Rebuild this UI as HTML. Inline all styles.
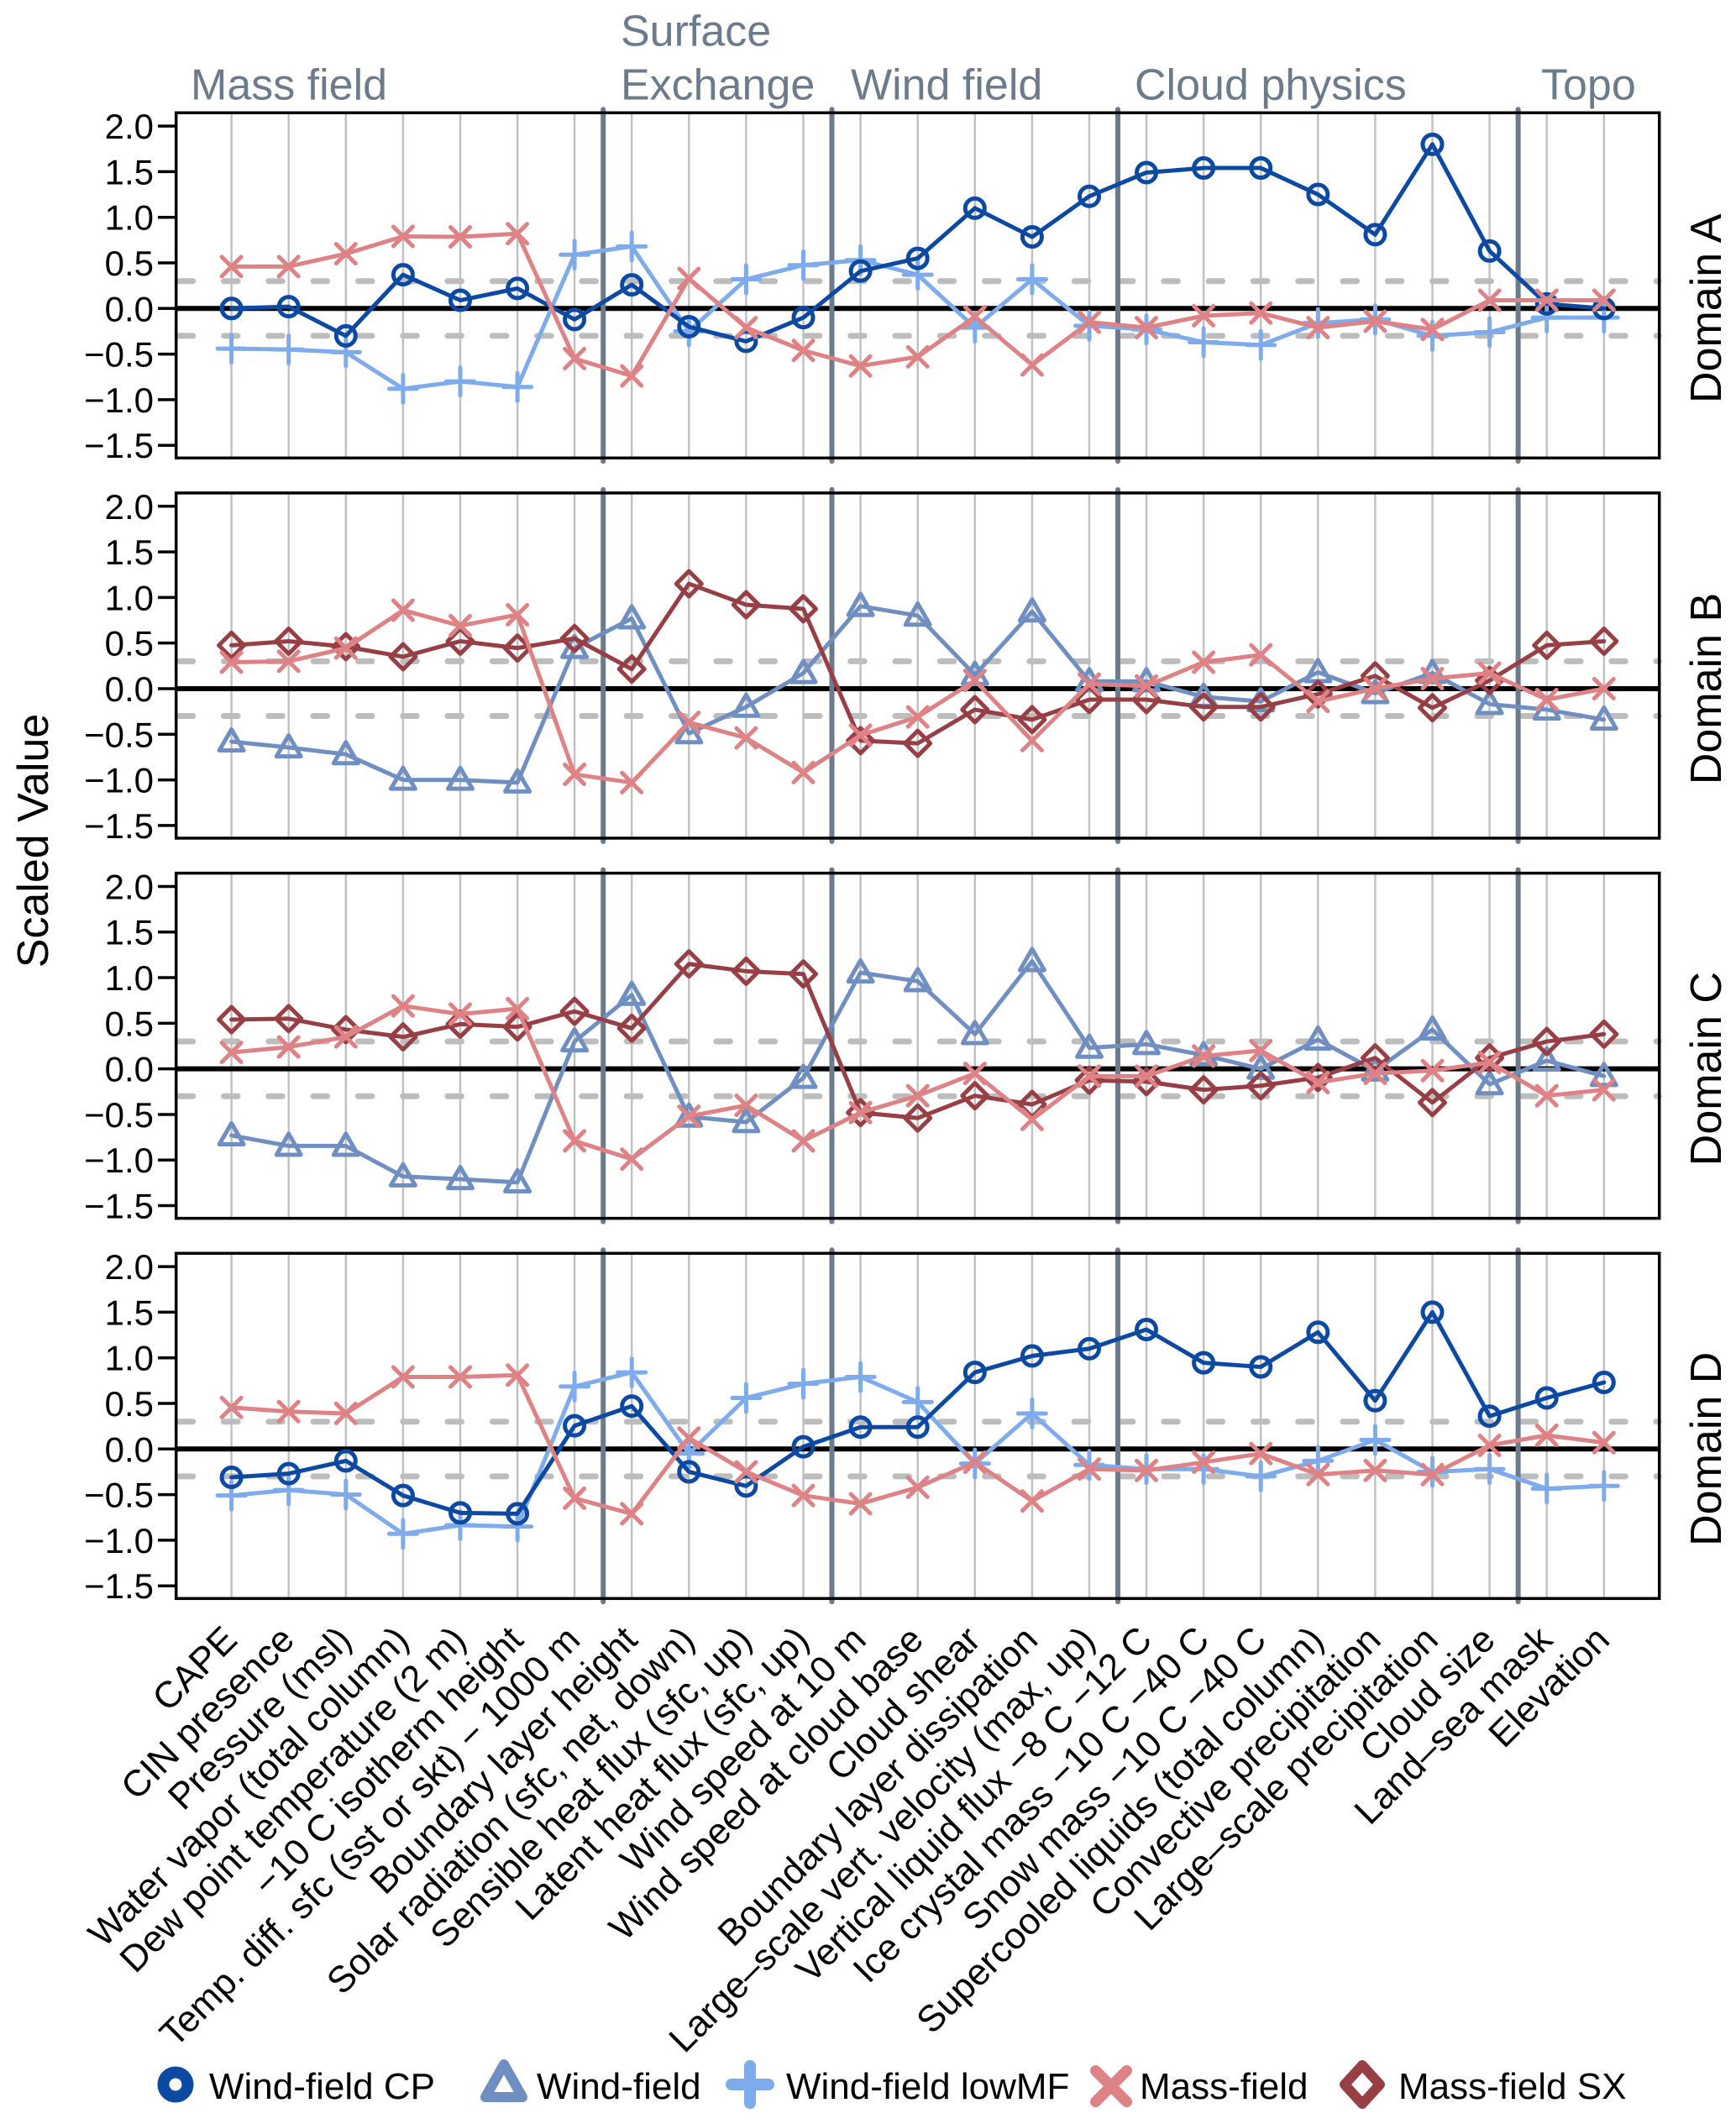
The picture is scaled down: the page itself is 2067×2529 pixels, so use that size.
<!DOCTYPE html>
<html><head><meta charset="utf-8"><style>
html,body{margin:0;padding:0;background:#fff;}
body{width:2067px;height:2529px;overflow:hidden;}
svg{display:block;font-family:"Liberation Sans",Arial,Helvetica,sans-serif;}
.pl{fill:none;stroke-linejoin:round;stroke-linecap:round;vector-effect:non-scaling-stroke;stroke-width:5;}
</style></head><body>
<svg width="2067" height="2529" viewBox="0 0 2067 2529" xmlns="http://www.w3.org/2000/svg">
<defs>
<g id="bg">
<g stroke="#c0c0c0" stroke-width="2.4">
<path d="M275.6,-233V178M343.7,-233V178M411.8,-233V178M479.9,-233V178M548,-233V178M616.1,-233V178M684.1,-233V178M752.2,-233V178M820.3,-233V178M888.4,-233V178M956.5,-233V178M1024.6,-233V178M1092.7,-233V178M1160.8,-233V178M1228.9,-233V178M1297,-233V178M1365,-233V178M1433.1,-233V178M1501.2,-233V178M1569.3,-233V178M1637.4,-233V178M1705.5,-233V178M1773.6,-233V178M1841.7,-233V178M1909.8,-233V178"/>
</g>
<path d="M213.2,-32.58H1975M213.2,32.58H1975" stroke="#bdbdbd" stroke-width="7" stroke-dasharray="16.5 36.8" stroke-linecap="round" fill="none"/>
<path d="M209.7,0H1975.7" stroke="#000" stroke-width="6"/>
<path d="M718.2,-237V182M990.5,-237V182M1331,-237V182M1807.6,-237V182" stroke="#6c7b8b" stroke-width="6" stroke-linecap="round"/>
<rect x="209.7" y="-233" width="1766" height="411" fill="none" stroke="#000" stroke-width="3.5"/>
<path d="M188,-217.2H209.7M188,-162.9H209.7M188,-108.6H209.7M188,-54.3H209.7M188,0H209.7M188,54.3H209.7M188,108.6H209.7M188,162.9H209.7" stroke="#000" stroke-width="3.5"/>
</g>
<g id="mC"><circle r="11.5" fill="none" stroke="#0b49a3" stroke-width="5"/></g>
<g id="mW"><path d="M0,-14.5L14.5,10.6L-14.5,10.6Z" fill="none" stroke="#6f8fc2" stroke-width="5" stroke-linejoin="round"/></g>
<g id="mL"><path d="M-16.5,0H16.5M0,-16.5V16.5" fill="none" stroke="#7eabeb" stroke-width="5" stroke-linecap="round"/></g>
<g id="mM"><path d="M-11.5,-11.5L11.5,11.5M-11.5,11.5L11.5,-11.5" fill="none" stroke="#df8285" stroke-width="5" stroke-linecap="round"/></g>
<g id="mS"><path d="M0,-15L15,0L0,15L-15,0Z" fill="none" stroke="#983f45" stroke-width="5" stroke-linejoin="round"/></g>
</defs>
<rect width="2067" height="2529" fill="#fff"/>

<!-- group labels -->
<g fill="#6c7b8b" font-size="52">
<text x="227" y="118.6">Mass field</text>
<text x="739" y="54.5">Surface</text>
<text x="739" y="118.6">Exchange</text>
<text x="1013" y="118.6">Wind field</text>
<text x="1351" y="118.6">Cloud physics</text>
<text x="1835" y="118.6">Topo</text>
</g>

<use href="#bg" y="367.3"/>
<use href="#bg" y="819.97"/>
<use href="#bg" y="1272.64"/>
<use href="#bg" y="1725.3"/>

<!-- tick labels & domain labels -->
<g font-size="42" text-anchor="end">
<g transform="translate(0,367.3)"><text x="183" y="-202.2">2.0</text><text x="183" y="-147.9">1.5</text><text x="183" y="-93.6">1.0</text><text x="183" y="-39.3">0.5</text><text x="183" y="15">0.0</text><text x="183" y="69.3">−0.5</text><text x="183" y="123.6">−1.0</text><text x="183" y="177.9">−1.5</text></g>
<g transform="translate(0,819.97)"><text x="183" y="-202.2">2.0</text><text x="183" y="-147.9">1.5</text><text x="183" y="-93.6">1.0</text><text x="183" y="-39.3">0.5</text><text x="183" y="15">0.0</text><text x="183" y="69.3">−0.5</text><text x="183" y="123.6">−1.0</text><text x="183" y="177.9">−1.5</text></g>
<g transform="translate(0,1272.64)"><text x="183" y="-202.2">2.0</text><text x="183" y="-147.9">1.5</text><text x="183" y="-93.6">1.0</text><text x="183" y="-39.3">0.5</text><text x="183" y="15">0.0</text><text x="183" y="69.3">−0.5</text><text x="183" y="123.6">−1.0</text><text x="183" y="177.9">−1.5</text></g>
<g transform="translate(0,1725.3)"><text x="183" y="-202.2">2.0</text><text x="183" y="-147.9">1.5</text><text x="183" y="-93.6">1.0</text><text x="183" y="-39.3">0.5</text><text x="183" y="15">0.0</text><text x="183" y="69.3">−0.5</text><text x="183" y="123.6">−1.0</text><text x="183" y="177.9">−1.5</text></g>
</g>
<g font-size="52" text-anchor="middle">
<text transform="translate(2049,367.3) rotate(-90)">Domain A</text>
<text transform="translate(2049,819.97) rotate(-90)">Domain B</text>
<text transform="translate(2049,1272.64) rotate(-90)">Domain C</text>
<text transform="translate(2049,1725.3) rotate(-90)">Domain D</text>
<text transform="translate(57,1001) rotate(-90)">Scaled Value</text>
</g>

<!-- Panel A -->
<g transform="translate(0,367.3) scale(1,-108.6)">
<polyline class="pl" stroke="#7eabeb" points="275.6,-0.44 343.7,-0.45 411.8,-0.48 479.9,-0.88 548,-0.80 616.1,-0.86 684.1,0.59 752.2,0.68 820.3,-0.25 888.4,0.32 956.5,0.475 1024.6,0.53 1092.7,0.37 1160.8,-0.21 1228.9,0.32 1297,-0.19 1365,-0.23 1433.1,-0.37 1501.2,-0.40 1569.3,-0.16 1637.4,-0.12 1705.5,-0.30 1773.6,-0.26 1841.7,-0.10 1909.8,-0.10"/>
<use href="#mL" transform="translate(275.6,-0.44)scale(1,-.0092081)"/><use href="#mL" transform="translate(343.7,-0.45)scale(1,-.0092081)"/><use href="#mL" transform="translate(411.8,-0.48)scale(1,-.0092081)"/><use href="#mL" transform="translate(479.9,-0.88)scale(1,-.0092081)"/><use href="#mL" transform="translate(548,-0.80)scale(1,-.0092081)"/><use href="#mL" transform="translate(616.1,-0.86)scale(1,-.0092081)"/><use href="#mL" transform="translate(684.1,0.59)scale(1,-.0092081)"/><use href="#mL" transform="translate(752.2,0.68)scale(1,-.0092081)"/><use href="#mL" transform="translate(820.3,-0.25)scale(1,-.0092081)"/><use href="#mL" transform="translate(888.4,0.32)scale(1,-.0092081)"/><use href="#mL" transform="translate(956.5,0.475)scale(1,-.0092081)"/><use href="#mL" transform="translate(1024.6,0.53)scale(1,-.0092081)"/><use href="#mL" transform="translate(1092.7,0.37)scale(1,-.0092081)"/><use href="#mL" transform="translate(1160.8,-0.21)scale(1,-.0092081)"/><use href="#mL" transform="translate(1228.9,0.32)scale(1,-.0092081)"/><use href="#mL" transform="translate(1297,-0.19)scale(1,-.0092081)"/><use href="#mL" transform="translate(1365,-0.23)scale(1,-.0092081)"/><use href="#mL" transform="translate(1433.1,-0.37)scale(1,-.0092081)"/><use href="#mL" transform="translate(1501.2,-0.40)scale(1,-.0092081)"/><use href="#mL" transform="translate(1569.3,-0.16)scale(1,-.0092081)"/><use href="#mL" transform="translate(1637.4,-0.12)scale(1,-.0092081)"/><use href="#mL" transform="translate(1705.5,-0.30)scale(1,-.0092081)"/><use href="#mL" transform="translate(1773.6,-0.26)scale(1,-.0092081)"/><use href="#mL" transform="translate(1841.7,-0.10)scale(1,-.0092081)"/><use href="#mL" transform="translate(1909.8,-0.10)scale(1,-.0092081)"/>
<polyline class="pl" stroke="#0b49a3" points="275.6,0 343.7,0.02 411.8,-0.30 479.9,0.37 548,0.09 616.1,0.22 684.1,-0.12 752.2,0.26 820.3,-0.20 888.4,-0.36 956.5,-0.10 1024.6,0.41 1092.7,0.55 1160.8,1.10 1228.9,0.785 1297,1.23 1365,1.49 1433.1,1.54 1501.2,1.54 1569.3,1.25 1637.4,0.81 1705.5,1.80 1773.6,0.63 1841.7,0.05 1909.8,0"/>
<use href="#mC" transform="translate(275.6,0)scale(1,-.0092081)"/><use href="#mC" transform="translate(343.7,0.02)scale(1,-.0092081)"/><use href="#mC" transform="translate(411.8,-0.30)scale(1,-.0092081)"/><use href="#mC" transform="translate(479.9,0.37)scale(1,-.0092081)"/><use href="#mC" transform="translate(548,0.09)scale(1,-.0092081)"/><use href="#mC" transform="translate(616.1,0.22)scale(1,-.0092081)"/><use href="#mC" transform="translate(684.1,-0.12)scale(1,-.0092081)"/><use href="#mC" transform="translate(752.2,0.26)scale(1,-.0092081)"/><use href="#mC" transform="translate(820.3,-0.20)scale(1,-.0092081)"/><use href="#mC" transform="translate(888.4,-0.36)scale(1,-.0092081)"/><use href="#mC" transform="translate(956.5,-0.10)scale(1,-.0092081)"/><use href="#mC" transform="translate(1024.6,0.41)scale(1,-.0092081)"/><use href="#mC" transform="translate(1092.7,0.55)scale(1,-.0092081)"/><use href="#mC" transform="translate(1160.8,1.10)scale(1,-.0092081)"/><use href="#mC" transform="translate(1228.9,0.785)scale(1,-.0092081)"/><use href="#mC" transform="translate(1297,1.23)scale(1,-.0092081)"/><use href="#mC" transform="translate(1365,1.49)scale(1,-.0092081)"/><use href="#mC" transform="translate(1433.1,1.54)scale(1,-.0092081)"/><use href="#mC" transform="translate(1501.2,1.54)scale(1,-.0092081)"/><use href="#mC" transform="translate(1569.3,1.25)scale(1,-.0092081)"/><use href="#mC" transform="translate(1637.4,0.81)scale(1,-.0092081)"/><use href="#mC" transform="translate(1705.5,1.80)scale(1,-.0092081)"/><use href="#mC" transform="translate(1773.6,0.63)scale(1,-.0092081)"/><use href="#mC" transform="translate(1841.7,0.05)scale(1,-.0092081)"/><use href="#mC" transform="translate(1909.8,0)scale(1,-.0092081)"/>
<polyline class="pl" stroke="#df8285" points="275.6,0.46 343.7,0.46 411.8,0.60 479.9,0.79 548,0.785 616.1,0.82 684.1,-0.55 752.2,-0.74 820.3,0.33 888.4,-0.21 956.5,-0.46 1024.6,-0.63 1092.7,-0.53 1160.8,-0.09 1228.9,-0.62 1297,-0.15 1365,-0.21 1433.1,-0.08 1501.2,-0.05 1569.3,-0.21 1637.4,-0.14 1705.5,-0.23 1773.6,0.09 1841.7,0.09 1909.8,0.09"/>
<use href="#mM" transform="translate(275.6,0.46)scale(1,-.0092081)"/><use href="#mM" transform="translate(343.7,0.46)scale(1,-.0092081)"/><use href="#mM" transform="translate(411.8,0.60)scale(1,-.0092081)"/><use href="#mM" transform="translate(479.9,0.79)scale(1,-.0092081)"/><use href="#mM" transform="translate(548,0.785)scale(1,-.0092081)"/><use href="#mM" transform="translate(616.1,0.82)scale(1,-.0092081)"/><use href="#mM" transform="translate(684.1,-0.55)scale(1,-.0092081)"/><use href="#mM" transform="translate(752.2,-0.74)scale(1,-.0092081)"/><use href="#mM" transform="translate(820.3,0.33)scale(1,-.0092081)"/><use href="#mM" transform="translate(888.4,-0.21)scale(1,-.0092081)"/><use href="#mM" transform="translate(956.5,-0.46)scale(1,-.0092081)"/><use href="#mM" transform="translate(1024.6,-0.63)scale(1,-.0092081)"/><use href="#mM" transform="translate(1092.7,-0.53)scale(1,-.0092081)"/><use href="#mM" transform="translate(1160.8,-0.09)scale(1,-.0092081)"/><use href="#mM" transform="translate(1228.9,-0.62)scale(1,-.0092081)"/><use href="#mM" transform="translate(1297,-0.15)scale(1,-.0092081)"/><use href="#mM" transform="translate(1365,-0.21)scale(1,-.0092081)"/><use href="#mM" transform="translate(1433.1,-0.08)scale(1,-.0092081)"/><use href="#mM" transform="translate(1501.2,-0.05)scale(1,-.0092081)"/><use href="#mM" transform="translate(1569.3,-0.21)scale(1,-.0092081)"/><use href="#mM" transform="translate(1637.4,-0.14)scale(1,-.0092081)"/><use href="#mM" transform="translate(1705.5,-0.23)scale(1,-.0092081)"/><use href="#mM" transform="translate(1773.6,0.09)scale(1,-.0092081)"/><use href="#mM" transform="translate(1841.7,0.09)scale(1,-.0092081)"/><use href="#mM" transform="translate(1909.8,0.09)scale(1,-.0092081)"/>
</g>

<!-- Panel B -->
<g transform="translate(0,819.97) scale(1,-108.6)">
<polyline class="pl" stroke="#6f8fc2" points="275.6,-0.58 343.7,-0.645 411.8,-0.72 479.9,-1.00 548,-1.00 616.1,-1.03 684.1,0.445 752.2,0.77 820.3,-0.49 888.4,-0.20 956.5,0.17 1024.6,0.905 1092.7,0.80 1160.8,0.15 1228.9,0.845 1297,0.08 1365,0.08 1433.1,-0.09 1501.2,-0.14 1569.3,0.18 1637.4,-0.05 1705.5,0.17 1773.6,-0.17 1841.7,-0.23 1909.8,-0.34"/>
<use href="#mW" transform="translate(275.6,-0.58)scale(1,-.0092081)"/><use href="#mW" transform="translate(343.7,-0.645)scale(1,-.0092081)"/><use href="#mW" transform="translate(411.8,-0.72)scale(1,-.0092081)"/><use href="#mW" transform="translate(479.9,-1.00)scale(1,-.0092081)"/><use href="#mW" transform="translate(548,-1.00)scale(1,-.0092081)"/><use href="#mW" transform="translate(616.1,-1.03)scale(1,-.0092081)"/><use href="#mW" transform="translate(684.1,0.445)scale(1,-.0092081)"/><use href="#mW" transform="translate(752.2,0.77)scale(1,-.0092081)"/><use href="#mW" transform="translate(820.3,-0.49)scale(1,-.0092081)"/><use href="#mW" transform="translate(888.4,-0.20)scale(1,-.0092081)"/><use href="#mW" transform="translate(956.5,0.17)scale(1,-.0092081)"/><use href="#mW" transform="translate(1024.6,0.905)scale(1,-.0092081)"/><use href="#mW" transform="translate(1092.7,0.80)scale(1,-.0092081)"/><use href="#mW" transform="translate(1160.8,0.15)scale(1,-.0092081)"/><use href="#mW" transform="translate(1228.9,0.845)scale(1,-.0092081)"/><use href="#mW" transform="translate(1297,0.08)scale(1,-.0092081)"/><use href="#mW" transform="translate(1365,0.08)scale(1,-.0092081)"/><use href="#mW" transform="translate(1433.1,-0.09)scale(1,-.0092081)"/><use href="#mW" transform="translate(1501.2,-0.14)scale(1,-.0092081)"/><use href="#mW" transform="translate(1569.3,0.18)scale(1,-.0092081)"/><use href="#mW" transform="translate(1637.4,-0.05)scale(1,-.0092081)"/><use href="#mW" transform="translate(1705.5,0.17)scale(1,-.0092081)"/><use href="#mW" transform="translate(1773.6,-0.17)scale(1,-.0092081)"/><use href="#mW" transform="translate(1841.7,-0.23)scale(1,-.0092081)"/><use href="#mW" transform="translate(1909.8,-0.34)scale(1,-.0092081)"/>
<polyline class="pl" stroke="#983f45" points="275.6,0.475 343.7,0.52 411.8,0.46 479.9,0.35 548,0.52 616.1,0.445 684.1,0.55 752.2,0.215 820.3,1.15 888.4,0.92 956.5,0.875 1024.6,-0.57 1092.7,-0.60 1160.8,-0.23 1228.9,-0.34 1297,-0.12 1365,-0.12 1433.1,-0.20 1501.2,-0.20 1569.3,-0.06 1637.4,0.14 1705.5,-0.21 1773.6,0.09 1841.7,0.475 1909.8,0.52"/>
<use href="#mS" transform="translate(275.6,0.475)scale(1,-.0092081)"/><use href="#mS" transform="translate(343.7,0.52)scale(1,-.0092081)"/><use href="#mS" transform="translate(411.8,0.46)scale(1,-.0092081)"/><use href="#mS" transform="translate(479.9,0.35)scale(1,-.0092081)"/><use href="#mS" transform="translate(548,0.52)scale(1,-.0092081)"/><use href="#mS" transform="translate(616.1,0.445)scale(1,-.0092081)"/><use href="#mS" transform="translate(684.1,0.55)scale(1,-.0092081)"/><use href="#mS" transform="translate(752.2,0.215)scale(1,-.0092081)"/><use href="#mS" transform="translate(820.3,1.15)scale(1,-.0092081)"/><use href="#mS" transform="translate(888.4,0.92)scale(1,-.0092081)"/><use href="#mS" transform="translate(956.5,0.875)scale(1,-.0092081)"/><use href="#mS" transform="translate(1024.6,-0.57)scale(1,-.0092081)"/><use href="#mS" transform="translate(1092.7,-0.60)scale(1,-.0092081)"/><use href="#mS" transform="translate(1160.8,-0.23)scale(1,-.0092081)"/><use href="#mS" transform="translate(1228.9,-0.34)scale(1,-.0092081)"/><use href="#mS" transform="translate(1297,-0.12)scale(1,-.0092081)"/><use href="#mS" transform="translate(1365,-0.12)scale(1,-.0092081)"/><use href="#mS" transform="translate(1433.1,-0.20)scale(1,-.0092081)"/><use href="#mS" transform="translate(1501.2,-0.20)scale(1,-.0092081)"/><use href="#mS" transform="translate(1569.3,-0.06)scale(1,-.0092081)"/><use href="#mS" transform="translate(1637.4,0.14)scale(1,-.0092081)"/><use href="#mS" transform="translate(1705.5,-0.21)scale(1,-.0092081)"/><use href="#mS" transform="translate(1773.6,0.09)scale(1,-.0092081)"/><use href="#mS" transform="translate(1841.7,0.475)scale(1,-.0092081)"/><use href="#mS" transform="translate(1909.8,0.52)scale(1,-.0092081)"/>
<polyline class="pl" stroke="#df8285" points="275.6,0.29 343.7,0.30 411.8,0.445 479.9,0.86 548,0.69 616.1,0.81 684.1,-0.94 752.2,-1.03 820.3,-0.37 888.4,-0.54 956.5,-0.92 1024.6,-0.51 1092.7,-0.31 1160.8,0.09 1228.9,-0.57 1297,0.05 1365,0.03 1433.1,0.29 1501.2,0.37 1569.3,-0.14 1637.4,0 1705.5,0.11 1773.6,0.17 1841.7,-0.12 1909.8,0"/>
<use href="#mM" transform="translate(275.6,0.29)scale(1,-.0092081)"/><use href="#mM" transform="translate(343.7,0.30)scale(1,-.0092081)"/><use href="#mM" transform="translate(411.8,0.445)scale(1,-.0092081)"/><use href="#mM" transform="translate(479.9,0.86)scale(1,-.0092081)"/><use href="#mM" transform="translate(548,0.69)scale(1,-.0092081)"/><use href="#mM" transform="translate(616.1,0.81)scale(1,-.0092081)"/><use href="#mM" transform="translate(684.1,-0.94)scale(1,-.0092081)"/><use href="#mM" transform="translate(752.2,-1.03)scale(1,-.0092081)"/><use href="#mM" transform="translate(820.3,-0.37)scale(1,-.0092081)"/><use href="#mM" transform="translate(888.4,-0.54)scale(1,-.0092081)"/><use href="#mM" transform="translate(956.5,-0.92)scale(1,-.0092081)"/><use href="#mM" transform="translate(1024.6,-0.51)scale(1,-.0092081)"/><use href="#mM" transform="translate(1092.7,-0.31)scale(1,-.0092081)"/><use href="#mM" transform="translate(1160.8,0.09)scale(1,-.0092081)"/><use href="#mM" transform="translate(1228.9,-0.57)scale(1,-.0092081)"/><use href="#mM" transform="translate(1297,0.05)scale(1,-.0092081)"/><use href="#mM" transform="translate(1365,0.03)scale(1,-.0092081)"/><use href="#mM" transform="translate(1433.1,0.29)scale(1,-.0092081)"/><use href="#mM" transform="translate(1501.2,0.37)scale(1,-.0092081)"/><use href="#mM" transform="translate(1569.3,-0.14)scale(1,-.0092081)"/><use href="#mM" transform="translate(1637.4,0)scale(1,-.0092081)"/><use href="#mM" transform="translate(1705.5,0.11)scale(1,-.0092081)"/><use href="#mM" transform="translate(1773.6,0.17)scale(1,-.0092081)"/><use href="#mM" transform="translate(1841.7,-0.12)scale(1,-.0092081)"/><use href="#mM" transform="translate(1909.8,0)scale(1,-.0092081)"/>
</g>

<!-- Panel C -->
<g transform="translate(0,1272.64) scale(1,-108.6)">
<polyline class="pl" stroke="#6f8fc2" points="275.6,-0.73 343.7,-0.845 411.8,-0.845 479.9,-1.18 548,-1.21 616.1,-1.245 684.1,0.30 752.2,0.81 820.3,-0.525 888.4,-0.585 956.5,-0.10 1024.6,1.055 1092.7,0.96 1160.8,0.38 1228.9,1.18 1297,0.23 1365,0.27 1433.1,0.15 1501.2,0 1569.3,0.32 1637.4,-0.02 1705.5,0.43 1773.6,-0.17 1841.7,0.09 1909.8,-0.08"/>
<use href="#mW" transform="translate(275.6,-0.73)scale(1,-.0092081)"/><use href="#mW" transform="translate(343.7,-0.845)scale(1,-.0092081)"/><use href="#mW" transform="translate(411.8,-0.845)scale(1,-.0092081)"/><use href="#mW" transform="translate(479.9,-1.18)scale(1,-.0092081)"/><use href="#mW" transform="translate(548,-1.21)scale(1,-.0092081)"/><use href="#mW" transform="translate(616.1,-1.245)scale(1,-.0092081)"/><use href="#mW" transform="translate(684.1,0.30)scale(1,-.0092081)"/><use href="#mW" transform="translate(752.2,0.81)scale(1,-.0092081)"/><use href="#mW" transform="translate(820.3,-0.525)scale(1,-.0092081)"/><use href="#mW" transform="translate(888.4,-0.585)scale(1,-.0092081)"/><use href="#mW" transform="translate(956.5,-0.10)scale(1,-.0092081)"/><use href="#mW" transform="translate(1024.6,1.055)scale(1,-.0092081)"/><use href="#mW" transform="translate(1092.7,0.96)scale(1,-.0092081)"/><use href="#mW" transform="translate(1160.8,0.38)scale(1,-.0092081)"/><use href="#mW" transform="translate(1228.9,1.18)scale(1,-.0092081)"/><use href="#mW" transform="translate(1297,0.23)scale(1,-.0092081)"/><use href="#mW" transform="translate(1365,0.27)scale(1,-.0092081)"/><use href="#mW" transform="translate(1433.1,0.15)scale(1,-.0092081)"/><use href="#mW" transform="translate(1501.2,0)scale(1,-.0092081)"/><use href="#mW" transform="translate(1569.3,0.32)scale(1,-.0092081)"/><use href="#mW" transform="translate(1637.4,-0.02)scale(1,-.0092081)"/><use href="#mW" transform="translate(1705.5,0.43)scale(1,-.0092081)"/><use href="#mW" transform="translate(1773.6,-0.17)scale(1,-.0092081)"/><use href="#mW" transform="translate(1841.7,0.09)scale(1,-.0092081)"/><use href="#mW" transform="translate(1909.8,-0.08)scale(1,-.0092081)"/>
<polyline class="pl" stroke="#983f45" points="275.6,0.54 343.7,0.55 411.8,0.43 479.9,0.35 548,0.49 616.1,0.46 684.1,0.63 752.2,0.445 820.3,1.15 888.4,1.07 956.5,1.04 1024.6,-0.48 1092.7,-0.54 1160.8,-0.295 1228.9,-0.39 1297,-0.125 1365,-0.14 1433.1,-0.23 1501.2,-0.185 1569.3,-0.095 1637.4,0.12 1705.5,-0.37 1773.6,0.12 1841.7,0.30 1909.8,0.38"/>
<use href="#mS" transform="translate(275.6,0.54)scale(1,-.0092081)"/><use href="#mS" transform="translate(343.7,0.55)scale(1,-.0092081)"/><use href="#mS" transform="translate(411.8,0.43)scale(1,-.0092081)"/><use href="#mS" transform="translate(479.9,0.35)scale(1,-.0092081)"/><use href="#mS" transform="translate(548,0.49)scale(1,-.0092081)"/><use href="#mS" transform="translate(616.1,0.46)scale(1,-.0092081)"/><use href="#mS" transform="translate(684.1,0.63)scale(1,-.0092081)"/><use href="#mS" transform="translate(752.2,0.445)scale(1,-.0092081)"/><use href="#mS" transform="translate(820.3,1.15)scale(1,-.0092081)"/><use href="#mS" transform="translate(888.4,1.07)scale(1,-.0092081)"/><use href="#mS" transform="translate(956.5,1.04)scale(1,-.0092081)"/><use href="#mS" transform="translate(1024.6,-0.48)scale(1,-.0092081)"/><use href="#mS" transform="translate(1092.7,-0.54)scale(1,-.0092081)"/><use href="#mS" transform="translate(1160.8,-0.295)scale(1,-.0092081)"/><use href="#mS" transform="translate(1228.9,-0.39)scale(1,-.0092081)"/><use href="#mS" transform="translate(1297,-0.125)scale(1,-.0092081)"/><use href="#mS" transform="translate(1365,-0.14)scale(1,-.0092081)"/><use href="#mS" transform="translate(1433.1,-0.23)scale(1,-.0092081)"/><use href="#mS" transform="translate(1501.2,-0.185)scale(1,-.0092081)"/><use href="#mS" transform="translate(1569.3,-0.095)scale(1,-.0092081)"/><use href="#mS" transform="translate(1637.4,0.12)scale(1,-.0092081)"/><use href="#mS" transform="translate(1705.5,-0.37)scale(1,-.0092081)"/><use href="#mS" transform="translate(1773.6,0.12)scale(1,-.0092081)"/><use href="#mS" transform="translate(1841.7,0.30)scale(1,-.0092081)"/><use href="#mS" transform="translate(1909.8,0.38)scale(1,-.0092081)"/>
<polyline class="pl" stroke="#df8285" points="275.6,0.18 343.7,0.24 411.8,0.35 479.9,0.69 548,0.60 616.1,0.66 684.1,-0.79 752.2,-0.99 820.3,-0.52 888.4,-0.40 956.5,-0.79 1024.6,-0.48 1092.7,-0.295 1160.8,-0.05 1228.9,-0.555 1297,-0.08 1365,-0.08 1433.1,0.14 1501.2,0.20 1569.3,-0.15 1637.4,-0.05 1705.5,-0.02 1773.6,0.07 1841.7,-0.295 1909.8,-0.23"/>
<use href="#mM" transform="translate(275.6,0.18)scale(1,-.0092081)"/><use href="#mM" transform="translate(343.7,0.24)scale(1,-.0092081)"/><use href="#mM" transform="translate(411.8,0.35)scale(1,-.0092081)"/><use href="#mM" transform="translate(479.9,0.69)scale(1,-.0092081)"/><use href="#mM" transform="translate(548,0.60)scale(1,-.0092081)"/><use href="#mM" transform="translate(616.1,0.66)scale(1,-.0092081)"/><use href="#mM" transform="translate(684.1,-0.79)scale(1,-.0092081)"/><use href="#mM" transform="translate(752.2,-0.99)scale(1,-.0092081)"/><use href="#mM" transform="translate(820.3,-0.52)scale(1,-.0092081)"/><use href="#mM" transform="translate(888.4,-0.40)scale(1,-.0092081)"/><use href="#mM" transform="translate(956.5,-0.79)scale(1,-.0092081)"/><use href="#mM" transform="translate(1024.6,-0.48)scale(1,-.0092081)"/><use href="#mM" transform="translate(1092.7,-0.295)scale(1,-.0092081)"/><use href="#mM" transform="translate(1160.8,-0.05)scale(1,-.0092081)"/><use href="#mM" transform="translate(1228.9,-0.555)scale(1,-.0092081)"/><use href="#mM" transform="translate(1297,-0.08)scale(1,-.0092081)"/><use href="#mM" transform="translate(1365,-0.08)scale(1,-.0092081)"/><use href="#mM" transform="translate(1433.1,0.14)scale(1,-.0092081)"/><use href="#mM" transform="translate(1501.2,0.20)scale(1,-.0092081)"/><use href="#mM" transform="translate(1569.3,-0.15)scale(1,-.0092081)"/><use href="#mM" transform="translate(1637.4,-0.05)scale(1,-.0092081)"/><use href="#mM" transform="translate(1705.5,-0.02)scale(1,-.0092081)"/><use href="#mM" transform="translate(1773.6,0.07)scale(1,-.0092081)"/><use href="#mM" transform="translate(1841.7,-0.295)scale(1,-.0092081)"/><use href="#mM" transform="translate(1909.8,-0.23)scale(1,-.0092081)"/>
</g>

<!-- Panel D -->
<g transform="translate(0,1725.3) scale(1,-108.6)">
<polyline class="pl" stroke="#7eabeb" points="275.6,-0.51 343.7,-0.45 411.8,-0.50 479.9,-0.93 548,-0.835 616.1,-0.85 684.1,0.685 752.2,0.84 820.3,-0.05 888.4,0.56 956.5,0.715 1024.6,0.79 1092.7,0.515 1160.8,-0.16 1228.9,0.39 1297,-0.175 1365,-0.22 1433.1,-0.22 1501.2,-0.30 1569.3,-0.13 1637.4,0.10 1705.5,-0.25 1773.6,-0.22 1841.7,-0.435 1909.8,-0.405"/>
<use href="#mL" transform="translate(275.6,-0.51)scale(1,-.0092081)"/><use href="#mL" transform="translate(343.7,-0.45)scale(1,-.0092081)"/><use href="#mL" transform="translate(411.8,-0.50)scale(1,-.0092081)"/><use href="#mL" transform="translate(479.9,-0.93)scale(1,-.0092081)"/><use href="#mL" transform="translate(548,-0.835)scale(1,-.0092081)"/><use href="#mL" transform="translate(616.1,-0.85)scale(1,-.0092081)"/><use href="#mL" transform="translate(684.1,0.685)scale(1,-.0092081)"/><use href="#mL" transform="translate(752.2,0.84)scale(1,-.0092081)"/><use href="#mL" transform="translate(820.3,-0.05)scale(1,-.0092081)"/><use href="#mL" transform="translate(888.4,0.56)scale(1,-.0092081)"/><use href="#mL" transform="translate(956.5,0.715)scale(1,-.0092081)"/><use href="#mL" transform="translate(1024.6,0.79)scale(1,-.0092081)"/><use href="#mL" transform="translate(1092.7,0.515)scale(1,-.0092081)"/><use href="#mL" transform="translate(1160.8,-0.16)scale(1,-.0092081)"/><use href="#mL" transform="translate(1228.9,0.39)scale(1,-.0092081)"/><use href="#mL" transform="translate(1297,-0.175)scale(1,-.0092081)"/><use href="#mL" transform="translate(1365,-0.22)scale(1,-.0092081)"/><use href="#mL" transform="translate(1433.1,-0.22)scale(1,-.0092081)"/><use href="#mL" transform="translate(1501.2,-0.30)scale(1,-.0092081)"/><use href="#mL" transform="translate(1569.3,-0.13)scale(1,-.0092081)"/><use href="#mL" transform="translate(1637.4,0.10)scale(1,-.0092081)"/><use href="#mL" transform="translate(1705.5,-0.25)scale(1,-.0092081)"/><use href="#mL" transform="translate(1773.6,-0.22)scale(1,-.0092081)"/><use href="#mL" transform="translate(1841.7,-0.435)scale(1,-.0092081)"/><use href="#mL" transform="translate(1909.8,-0.405)scale(1,-.0092081)"/>
<polyline class="pl" stroke="#0b49a3" points="275.6,-0.31 343.7,-0.27 411.8,-0.13 479.9,-0.51 548,-0.70 616.1,-0.71 684.1,0.255 752.2,0.47 820.3,-0.25 888.4,-0.405 956.5,0.025 1024.6,0.24 1092.7,0.24 1160.8,0.84 1228.9,1.02 1297,1.10 1365,1.31 1433.1,0.945 1501.2,0.90 1569.3,1.28 1637.4,0.53 1705.5,1.50 1773.6,0.36 1841.7,0.56 1909.8,0.73"/>
<use href="#mC" transform="translate(275.6,-0.31)scale(1,-.0092081)"/><use href="#mC" transform="translate(343.7,-0.27)scale(1,-.0092081)"/><use href="#mC" transform="translate(411.8,-0.13)scale(1,-.0092081)"/><use href="#mC" transform="translate(479.9,-0.51)scale(1,-.0092081)"/><use href="#mC" transform="translate(548,-0.70)scale(1,-.0092081)"/><use href="#mC" transform="translate(616.1,-0.71)scale(1,-.0092081)"/><use href="#mC" transform="translate(684.1,0.255)scale(1,-.0092081)"/><use href="#mC" transform="translate(752.2,0.47)scale(1,-.0092081)"/><use href="#mC" transform="translate(820.3,-0.25)scale(1,-.0092081)"/><use href="#mC" transform="translate(888.4,-0.405)scale(1,-.0092081)"/><use href="#mC" transform="translate(956.5,0.025)scale(1,-.0092081)"/><use href="#mC" transform="translate(1024.6,0.24)scale(1,-.0092081)"/><use href="#mC" transform="translate(1092.7,0.24)scale(1,-.0092081)"/><use href="#mC" transform="translate(1160.8,0.84)scale(1,-.0092081)"/><use href="#mC" transform="translate(1228.9,1.02)scale(1,-.0092081)"/><use href="#mC" transform="translate(1297,1.10)scale(1,-.0092081)"/><use href="#mC" transform="translate(1365,1.31)scale(1,-.0092081)"/><use href="#mC" transform="translate(1433.1,0.945)scale(1,-.0092081)"/><use href="#mC" transform="translate(1501.2,0.90)scale(1,-.0092081)"/><use href="#mC" transform="translate(1569.3,1.28)scale(1,-.0092081)"/><use href="#mC" transform="translate(1637.4,0.53)scale(1,-.0092081)"/><use href="#mC" transform="translate(1705.5,1.50)scale(1,-.0092081)"/><use href="#mC" transform="translate(1773.6,0.36)scale(1,-.0092081)"/><use href="#mC" transform="translate(1841.7,0.56)scale(1,-.0092081)"/><use href="#mC" transform="translate(1909.8,0.73)scale(1,-.0092081)"/>
<polyline class="pl" stroke="#df8285" points="275.6,0.455 343.7,0.41 411.8,0.39 479.9,0.79 548,0.79 616.1,0.81 684.1,-0.54 752.2,-0.71 820.3,0.12 888.4,-0.25 956.5,-0.51 1024.6,-0.60 1092.7,-0.42 1160.8,-0.145 1228.9,-0.57 1297,-0.22 1365,-0.235 1433.1,-0.145 1501.2,-0.05 1569.3,-0.28 1637.4,-0.235 1705.5,-0.28 1773.6,0.04 1841.7,0.15 1909.8,0.07"/>
<use href="#mM" transform="translate(275.6,0.455)scale(1,-.0092081)"/><use href="#mM" transform="translate(343.7,0.41)scale(1,-.0092081)"/><use href="#mM" transform="translate(411.8,0.39)scale(1,-.0092081)"/><use href="#mM" transform="translate(479.9,0.79)scale(1,-.0092081)"/><use href="#mM" transform="translate(548,0.79)scale(1,-.0092081)"/><use href="#mM" transform="translate(616.1,0.81)scale(1,-.0092081)"/><use href="#mM" transform="translate(684.1,-0.54)scale(1,-.0092081)"/><use href="#mM" transform="translate(752.2,-0.71)scale(1,-.0092081)"/><use href="#mM" transform="translate(820.3,0.12)scale(1,-.0092081)"/><use href="#mM" transform="translate(888.4,-0.25)scale(1,-.0092081)"/><use href="#mM" transform="translate(956.5,-0.51)scale(1,-.0092081)"/><use href="#mM" transform="translate(1024.6,-0.60)scale(1,-.0092081)"/><use href="#mM" transform="translate(1092.7,-0.42)scale(1,-.0092081)"/><use href="#mM" transform="translate(1160.8,-0.145)scale(1,-.0092081)"/><use href="#mM" transform="translate(1228.9,-0.57)scale(1,-.0092081)"/><use href="#mM" transform="translate(1297,-0.22)scale(1,-.0092081)"/><use href="#mM" transform="translate(1365,-0.235)scale(1,-.0092081)"/><use href="#mM" transform="translate(1433.1,-0.145)scale(1,-.0092081)"/><use href="#mM" transform="translate(1501.2,-0.05)scale(1,-.0092081)"/><use href="#mM" transform="translate(1569.3,-0.28)scale(1,-.0092081)"/><use href="#mM" transform="translate(1637.4,-0.235)scale(1,-.0092081)"/><use href="#mM" transform="translate(1705.5,-0.28)scale(1,-.0092081)"/><use href="#mM" transform="translate(1773.6,0.04)scale(1,-.0092081)"/><use href="#mM" transform="translate(1841.7,0.15)scale(1,-.0092081)"/><use href="#mM" transform="translate(1909.8,0.07)scale(1,-.0092081)"/>
</g>

<!-- bottom labels -->
<g font-size="44" text-anchor="end" fill="#000">
<text transform="translate(284.6,1955) rotate(-45)">CAPE</text>
<text transform="translate(352.7,1955) rotate(-45)">CIN presence</text>
<text transform="translate(420.8,1955) rotate(-45)">Pressure (msl)</text>
<text transform="translate(488.9,1955) rotate(-45)">Water vapor (total column)</text>
<text transform="translate(557,1955) rotate(-45)">Dew point temperature (2 m)</text>
<text transform="translate(625.1,1955) rotate(-45)">−10 C isotherm height</text>
<text transform="translate(693.1,1955) rotate(-45)">Temp. diff. sfc (sst or skt) − 1000 m</text>
<text transform="translate(761.2,1955) rotate(-45)">Boundary layer height</text>
<text transform="translate(829.3,1955) rotate(-45)">Solar radiation (sfc, net, down)</text>
<text transform="translate(897.4,1955) rotate(-45)">Sensible heat flux (sfc, up)</text>
<text transform="translate(965.5,1955) rotate(-45)">Latent heat flux (sfc, up)</text>
<text transform="translate(1033.6,1955) rotate(-45)">Wind speed at 10 m</text>
<text transform="translate(1101.7,1955) rotate(-45)">Wind speed at cloud base</text>
<text transform="translate(1169.8,1955) rotate(-45)">Cloud shear</text>
<text transform="translate(1237.9,1955) rotate(-45)">Boundary layer dissipation</text>
<text transform="translate(1306,1955) rotate(-45)">Large–scale vert. velocity (max, up)</text>
<text transform="translate(1374,1955) rotate(-45)">Vertical liquid flux −8 C −12 C</text>
<text transform="translate(1442.1,1955) rotate(-45)">Ice crystal mass −10 C −40 C</text>
<text transform="translate(1510.2,1955) rotate(-45)">Snow mass −10 C −40 C</text>
<text transform="translate(1578.3,1955) rotate(-45)">Supercooled liquids (total column)</text>
<text transform="translate(1646.4,1955) rotate(-45)">Convective precipitation</text>
<text transform="translate(1714.5,1955) rotate(-45)">Large–scale precipitation</text>
<text transform="translate(1782.6,1955) rotate(-45)">Cloud size</text>
<text transform="translate(1850.7,1955) rotate(-45)">Land–sea mask</text>
<text transform="translate(1918.8,1955) rotate(-45)">Elevation</text>
</g>

<!-- legend -->
<circle cx="209" cy="2482" r="14.5" fill="none" stroke="#0b49a3" stroke-width="14"/>
<path d="M600,2458L622,2497L578,2497Z" fill="none" stroke="#6f8fc2" stroke-width="12" stroke-linejoin="round"/>
<path d="M871,2482H915M893,2460V2504" stroke="#7eabeb" stroke-width="14" stroke-linecap="round"/>
<path d="M1304.5,2465.5L1341.5,2502.5M1304.5,2502.5L1341.5,2465.5" stroke="#df8285" stroke-width="13" stroke-linecap="round"/>
<path d="M1622,2459L1643,2482L1622,2505L1601,2482Z" fill="none" stroke="#983f45" stroke-width="12" stroke-linejoin="round"/>
<g font-size="44" fill="#000">
<text x="249" y="2499">Wind-field CP</text>
<text x="639" y="2499">Wind-field</text>
<text x="936" y="2499">Wind-field lowMF</text>
<text x="1357" y="2499">Mass-field</text>
<text x="1665" y="2499">Mass-field SX</text>
</g>
</svg>
</body></html>
